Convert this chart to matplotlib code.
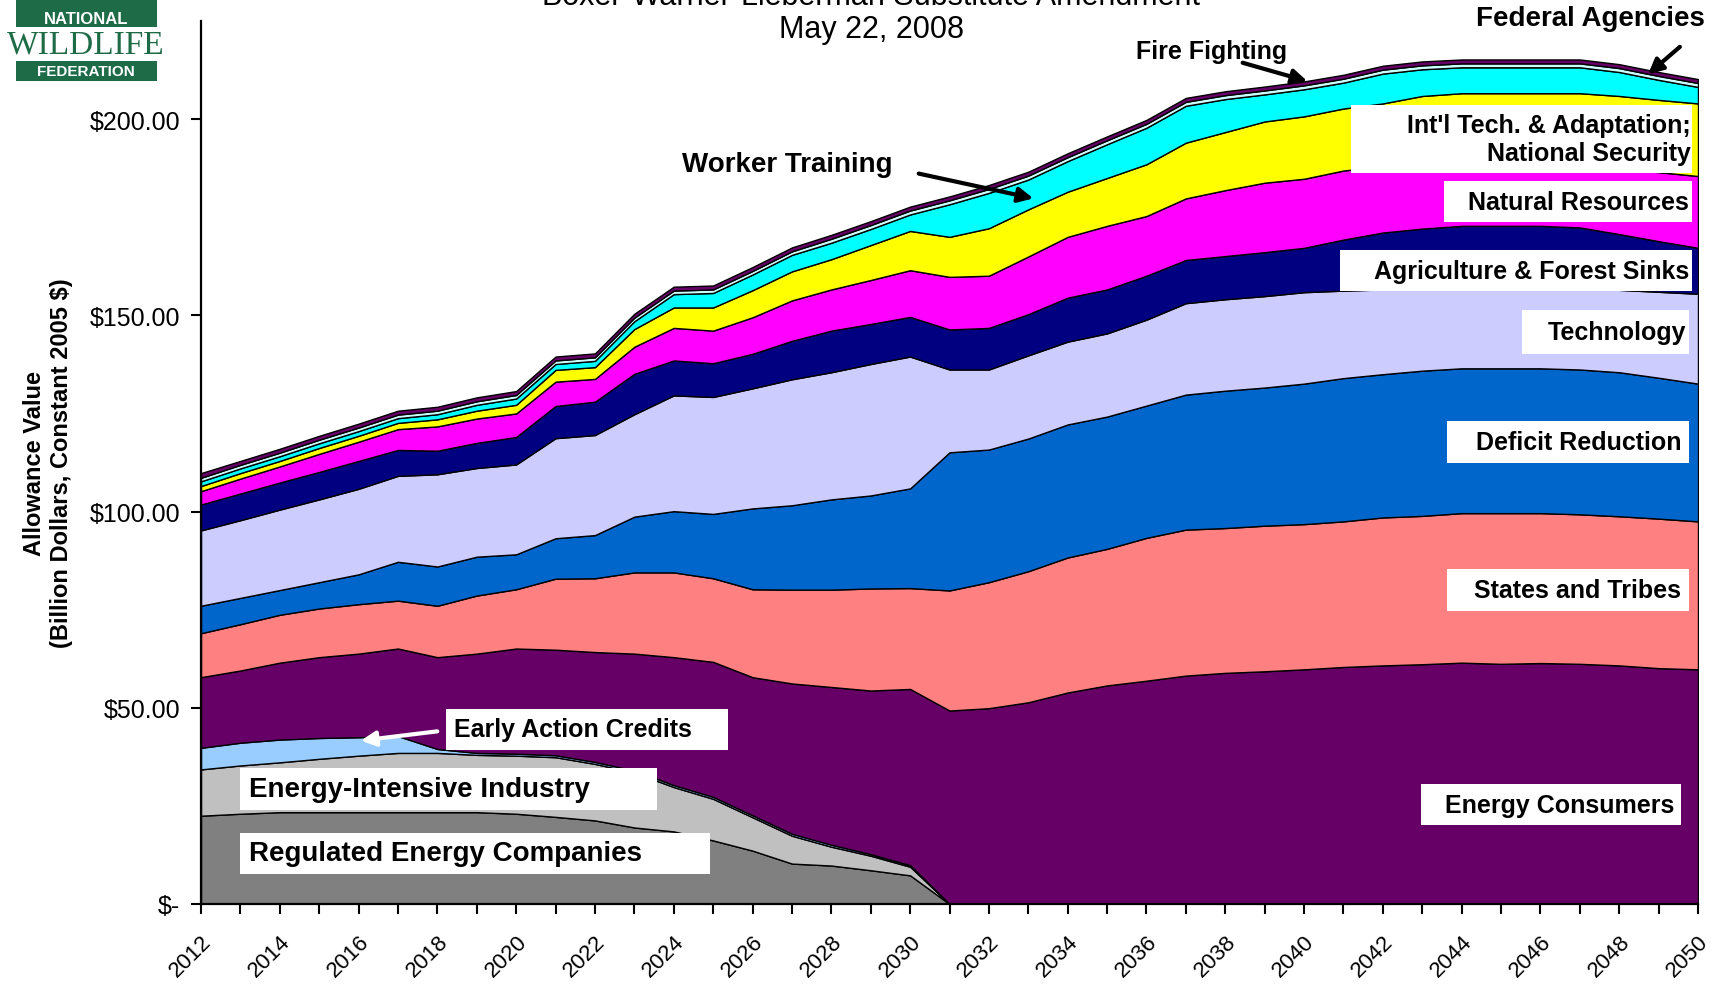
import matplotlib
matplotlib.use('Agg')
import matplotlib.pyplot as plt
from matplotlib.patches import Rectangle

plt.rcParams['font.family'] = ['Liberation Sans', 'DejaVu Sans']

# allowance value by recipient, billion 2005 $, one point per year 2012-2050
years = list(range(2012, 2051))

regulated_energy = [22.5, 23.0, 23.4, 23.4, 23.4, 23.4, 23.4, 23.4, 23.0, 22.2,
                    21.3, 19.5, 18.5, 16.2, 13.6, 10.3, 9.8, 8.6, 7.3, 0.0,
                    0, 0, 0, 0, 0, 0, 0, 0, 0, 0,
                    0, 0, 0, 0, 0, 0, 0, 0, 0]
energy_intensive = [11.8, 12.3, 12.7, 13.6, 14.4, 15.1, 15.1, 14.6, 14.8, 15.2,
                    14.4, 14.0, 11.3, 10.6, 8.5, 7.1, 4.8, 3.7, 2.2, 0.0,
                    0, 0, 0, 0, 0, 0, 0, 0, 0, 0,
                    0, 0, 0, 0, 0, 0, 0, 0, 0]
early_action = [5.5, 5.8, 5.8, 5.3, 4.7, 4.3, 1.0, 0.5, 0.5, 0.5,
                0.5, 0.5, 0.5, 0.5, 0.5, 0.5, 0.5, 0.4, 0.4, 0.0,
                0, 0, 0, 0, 0, 0, 0, 0, 0, 0,
                0, 0, 0, 0, 0, 0, 0, 0, 0]
energy_consumers = [18.0, 18.4, 19.6, 20.6, 21.3, 22.3, 23.4, 25.3, 26.8, 26.9,
                    28.0, 29.8, 32.6, 34.4, 35.2, 38.3, 40.2, 41.7, 44.9, 49.3,
                    49.9, 51.4, 53.9, 55.7, 56.9, 58.2, 58.9, 59.3, 59.8, 60.4,
                    60.8, 61.1, 61.5, 61.2, 61.4, 61.2, 60.8, 60.1, 59.8]
states_tribes = [11.2, 11.8, 12.2, 12.4, 12.6, 12.2, 13.1, 14.8, 15.1, 18.1,
                 18.8, 20.7, 21.6, 21.3, 22.4, 23.9, 24.8, 26.0, 25.7, 30.6,
                 32.1, 33.4, 34.4, 34.8, 36.4, 37.2, 36.9, 37.1, 37.0, 37.1,
                 37.7, 37.8, 38.1, 38.4, 38.2, 38.1, 38.0, 38.1, 37.7]
deficit_reduction = [7.0, 6.7, 6.3, 6.7, 7.6, 9.9, 10.0, 9.9, 8.9, 10.3,
                     11.0, 14.2, 15.6, 16.4, 20.6, 21.5, 23.0, 23.7, 25.4, 35.2,
                     33.8, 33.8, 33.9, 33.7, 33.7, 34.4, 35.0, 35.2, 35.8, 36.5,
                     36.5, 37.0, 36.9, 36.9, 36.9, 36.9, 36.7, 35.9, 35.1]
technology = [19.2, 19.8, 20.5, 21.1, 21.8, 21.9, 23.5, 22.6, 22.9, 25.5,
              25.5, 26.1, 29.5, 29.8, 30.6, 32.1, 32.4, 33.5, 33.6, 21.1,
              20.4, 21.2, 21.1, 21.2, 21.9, 23.3, 23.3, 23.3, 23.3, 22.3,
              21.6, 21.1, 20.7, 20.8, 20.7, 20.8, 21.0, 21.9, 22.9]
ag_forest = [6.6, 6.8, 6.9, 7.0, 7.1, 6.6, 6.0, 6.4, 7.0, 8.2,
             8.5, 10.3, 8.9, 8.6, 8.8, 9.8, 10.6, 10.2, 10.1, 10.2,
             10.6, 10.5, 11.2, 11.2, 11.2, 11.0, 11.0, 11.2, 11.3, 13.0,
             14.5, 15.1, 15.6, 15.5, 15.6, 15.4, 14.2, 12.9, 11.7]
natural_resources = [3.4, 3.8, 4.1, 4.6, 4.9, 5.3, 6.2, 6.2, 6.0, 6.2,
                     5.8, 6.9, 8.3, 8.3, 9.3, 10.3, 10.5, 11.2, 11.9, 13.4,
                     13.3, 14.7, 15.5, 16.2, 15.2, 15.7, 16.8, 17.7, 17.6, 17.6,
                     16.9, 16.4, 16.2, 16.2, 16.2, 16.1, 16.8, 17.6, 18.3]
intl_tech = [1.3, 1.4, 1.4, 1.5, 1.5, 1.6, 1.8, 2.0, 2.2, 3.0,
             3.0, 4.5, 5.2, 5.9, 6.9, 7.4, 7.7, 8.9, 10.0, 10.2,
             12.1, 12.0, 11.5, 12.2, 13.2, 14.2, 14.8, 15.6, 15.9, 15.8,
             16.0, 17.4, 17.6, 17.6, 17.6, 18.1, 18.4, 18.4, 18.5]
worker_training = [1.2, 1.2, 1.2, 1.2, 1.2, 1.2, 1.3, 1.5, 1.6, 1.5,
                   1.6, 2.0, 3.4, 3.7, 4.0, 4.2, 4.2, 4.1, 4.2, 8.3,
                   9.0, 7.6, 7.8, 8.6, 9.3, 9.4, 8.4, 6.9, 6.9, 6.6,
                   7.6, 6.8, 6.6, 6.6, 6.6, 6.6, 6.1, 5.1, 4.2]
fire_fighting = [0.9] * 16 + [1.0] * 23
federal_agencies = [1.2] + [1.0] * 38

layers = [regulated_energy, energy_intensive, early_action, energy_consumers,
          states_tribes, deficit_reduction, technology, ag_forest,
          natural_resources, intl_tech, worker_training, fire_fighting,
          federal_agencies]
colors = ['#808080', '#c0c0c0', '#99ccff', '#660066', '#ff8080', '#0066cc',
          '#ccccff', '#000080', '#ff00ff', '#ffff00', '#00ffff', '#ccffff',
          '#660066']

W, H = 1725, 987


def fx(x):
    return x / W


def fy(y):
    return 1 - y / H


fig = plt.figure(figsize=(W / 100, H / 100), dpi=100)
ax = fig.add_axes([fx(201), fy(905), fx(1698) - fx(201), fy(22) - fy(905)])

ax.stackplot(years, *layers, colors=colors, edgecolor='black', linewidth=1.0)

ax.set_xlim(2012, 2050)
ax.set_ylim(0, 225)
for s in ['top', 'right']:
    ax.spines[s].set_visible(False)
for s in ['left', 'bottom']:
    ax.spines[s].set_linewidth(1.6)

ax.set_yticks([0, 50, 100, 150, 200])
ax.set_yticklabels(['$-' if v == 0 else f'${v:.2f}' for v in [0, 50, 100, 150, 200]],
                   fontsize=18)
ax.set_xticks(years)
ax.set_xticklabels([str(y) if y % 2 == 0 else '' for y in years],
                   rotation=45, ha='right', rotation_mode='anchor', fontsize=16)
ax.tick_params(axis='both', direction='out', length=7, width=1.5, pad=8)
ax.tick_params(axis='x', pad=12)

ax.set_ylabel('Allowance Value\n(Billion Dollars, Constant 2005 $)',
              fontsize=17, fontweight='bold', labelpad=12, linespacing=1.2)


# white label boxes (full-size pixel coords: x0, y0, x1, y1)
def label_box(x0, y0, x1, y1, text, tx, ha, size):
    fig.add_artist(Rectangle((fx(x0), fy(y1)), fx(x1) - fx(x0), fy(y0) - fy(y1),
                             transform=fig.transFigure, facecolor='white',
                             edgecolor='none', zorder=3))
    fig.text(fx(tx), fy((y0 + y1) / 2), text, ha=ha, va='center',
             fontsize=size, fontweight='bold', zorder=4)


label_box(240, 834, 710, 875, 'Regulated Energy Companies', 249, 'left', 20)
label_box(240, 769, 657, 811, 'Energy-Intensive Industry', 249, 'left', 20)
label_box(446, 710, 728, 751, 'Early Action Credits', 454, 'left', 18)
label_box(1421, 785, 1681, 826, 'Energy Consumers', 1674, 'right', 18)
label_box(1447, 570, 1689, 612, 'States and Tribes', 1681, 'right', 18)
label_box(1447, 422, 1689, 464, 'Deficit Reduction', 1681, 'right', 18)
label_box(1522, 311, 1689, 355, 'Technology', 1686, 'right', 18)
label_box(1340, 251, 1692, 292, 'Agriculture & Forest Sinks', 1689, 'right', 18)
label_box(1444, 182, 1692, 223, 'Natural Resources', 1689, 'right', 18)
label_box(1351, 106, 1692, 174, "Int'l Tech. & Adaptation;\nNational Security",
          1691, 'right', 18)

# labels with arrows
fig.text(fx(682), fy(165), 'Worker Training', ha='left', va='center',
         fontsize=20, fontweight='bold')
fig.text(fx(1136), fy(52), 'Fire Fighting', ha='left', va='center',
         fontsize=18, fontweight='bold')
fig.text(fx(1705), fy(19), 'Federal Agencies', ha='right', va='center',
         fontsize=20, fontweight='bold')

arrows = [((916, 174), (1036, 200), 'black'),
          ((1240, 63), (1310, 83), 'black'),
          ((1682, 46), (1646, 77), 'black'),
          ((440, 732), (358, 742), 'white')]
for (x0, y0), (x1, y1), c in arrows:
    fig.add_artist(plt.Annotation('', xy=(fx(x1), fy(y1)), xytext=(fx(x0), fy(y0)),
                                  xycoords='figure fraction',
                                  textcoords='figure fraction',
                                  arrowprops=dict(arrowstyle='-|>', color=c, lw=3,
                                                  mutation_scale=22)))

# title, top line cut off by the page edge as in the original slide
fig.text(fx(871), fy(-3), 'Boxer-Warner-Lieberman Substitute Amendment',
         ha='center', va='center', fontsize=22)
fig.text(fx(872), fy(30), 'May 22, 2008', ha='center', va='center', fontsize=22)

# National Wildlife Federation logo
green = '#1e6b48'
fig.add_artist(Rectangle((fx(16), fy(28)), fx(141), fy(0) - fy(28),
                         transform=fig.transFigure, facecolor=green, edgecolor='none'))
fig.text(fx(86), fy(20), 'NATIONAL', ha='center', va='center', color='white',
         fontsize=12, fontweight='bold')
fig.text(fx(86), fy(45), 'WILDLIFE', ha='center', va='center', color=green,
         fontsize=24, family='Liberation Serif')
fig.add_artist(Rectangle((fx(16), fy(82)), fx(141), fy(62) - fy(82),
                         transform=fig.transFigure, facecolor=green, edgecolor='none'))
fig.text(fx(86), fy(72), 'FEDERATION', ha='center', va='center', color='white',
         fontsize=11, fontweight='bold')

fig.savefig('out.png', dpi=100)
